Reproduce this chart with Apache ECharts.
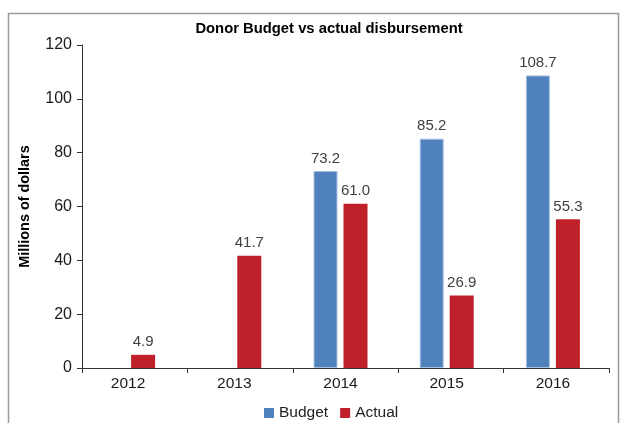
<!DOCTYPE html>
<html>
<head>
<meta charset="utf-8">
<script src="https://cdn.jsdelivr.net/npm/echarts@6/dist/echarts.min.js"></script>
<style>
  html, body { margin: 0; padding: 0; background: #fff; }
  #chart { width: 621px; height: 423px; }
</style>
</head>
<body>
<div id="chart"></div>
<script>
// Donor budget vs actual disbursement, millions of dollars
const years = ['2012', '2013', '2014', '2015', '2016'];
const budget = [null, null, 73.2, 85.2, 108.7];
const actual = [4.9, 41.7, 61.0, 26.9, 55.3];
const yTicks = { min: 0, max: 120, interval: 20 };

const FONT = '"Liberation Sans", Arial, sans-serif';
const labelStyle = {
  show: true,
  position: 'top',
  distance: 5,
  color: '#404040',
  fontFamily: FONT,
  fontSize: 15,
  formatter: p => (p.value == null ? '' : Number(p.value).toFixed(1))
};

const chart = echarts.init(document.getElementById('chart'), null, { renderer: 'canvas' });

chart.setOption({
  animation: false,
  textStyle: { fontFamily: FONT },
  graphic: [
    {
      type: 'rect',
      z: -10,
      shape: { x: 8.5, y: 13.5, width: 610, height: 500 },
      style: { fill: 'none', stroke: '#9a9a9a', lineWidth: 1.5 }
    },
    {
      type: 'text',
      x: 329,
      y: 29,
      style: {
        text: 'Donor Budget vs actual disbursement',
        fontFamily: FONT,
        fontWeight: 'bold',
        fontSize: 14.8,
        fill: '#000',
        textAlign: 'center',
        textVerticalAlign: 'middle'
      }
    }
  ],
  legend: {
    left: 259,
    top: 400,
    itemWidth: 10,
    itemHeight: 10,
    itemGap: 12,
    icon: 'rect',
    itemStyle: { borderWidth: 0 },
    textStyle: { fontFamily: FONT, fontSize: 15.5, color: '#222' },
    data: ['Budget', 'Actual']
  },
  grid: [
    // bars and category labels
    { left: 75, width: 531, top: 45, height: 323, containLabel: false },
    // axis frame: lines, ticks, value labels
    { left: 82, width: 527, top: 45, height: 323, containLabel: false }
  ],
  xAxis: [
    {
      type: 'category',
      gridIndex: 0,
      data: years,
      axisLine: { show: false },
      axisTick: { show: false },
      axisLabel: { color: '#1a1a1a', fontSize: 15.5, margin: 8, fontFamily: FONT }
    },
    {
      type: 'category',
      gridIndex: 1,
      data: years,
      axisLine: { show: true, lineStyle: { color: '#333', width: 1 } },
      axisTick: { show: true, length: 5, inside: false, lineStyle: { color: '#333' } },
      axisLabel: { show: false }
    }
  ],
  yAxis: [
    {
      type: 'value',
      gridIndex: 0,
      min: yTicks.min,
      max: yTicks.max,
      interval: yTicks.interval,
      show: false
    },
    {
      type: 'value',
      gridIndex: 1,
      min: yTicks.min,
      max: yTicks.max,
      interval: yTicks.interval,
      name: 'Millions of dollars',
      nameLocation: 'middle',
      nameRotate: 90,
      nameGap: 50,
      nameTextStyle: { fontFamily: FONT, fontWeight: 'bold', fontSize: 14.4, color: '#000' },
      axisLine: { show: true, lineStyle: { color: '#333', width: 1 } },
      axisTick: { show: true, length: 5, inside: false, lineStyle: { color: '#333' } },
      axisLabel: { color: '#1a1a1a', fontSize: 16, margin: 10, fontFamily: FONT },
      splitLine: { show: false }
    }
  ],
  series: [
    {
      name: 'Budget',
      type: 'bar',
      xAxisIndex: 0,
      yAxisIndex: 0,
      data: budget,
      barWidth: 24,
      barGap: '25%',
      itemStyle: { color: '#4f81bd', borderColor: '#a9c1e0', borderWidth: 1 },
      label: labelStyle
    },
    {
      name: 'Actual',
      type: 'bar',
      xAxisIndex: 0,
      yAxisIndex: 0,
      data: actual,
      barWidth: 24,
      barGap: '25%',
      itemStyle: { color: '#c0202a' },
      label: labelStyle
    }
  ]
});
</script>
</body>
</html>
